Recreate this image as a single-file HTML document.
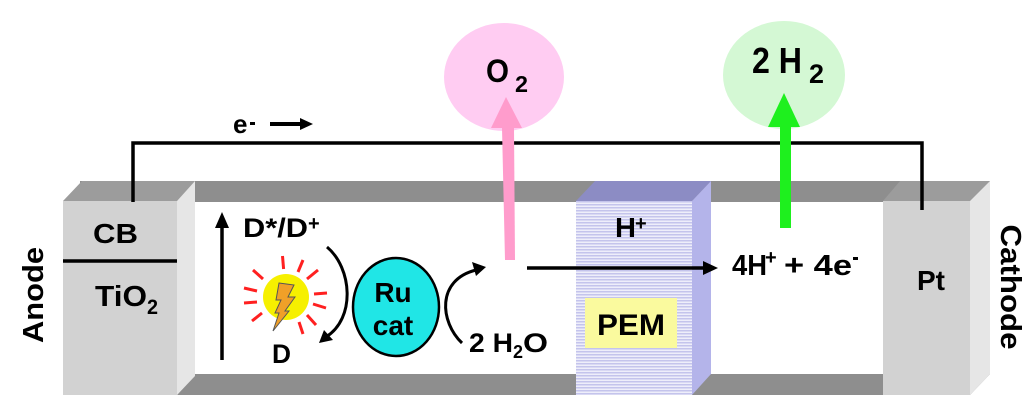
<!DOCTYPE html>
<html>
<head>
<meta charset="utf-8">
<style>
html,body{margin:0;padding:0;background:#fff;}
svg{display:block;}
text{font-family:"Liberation Sans",Arial,sans-serif;font-weight:bold;fill:#000;}
</style>
</head>
<body>
<svg width="1031" height="410" viewBox="0 0 1031 410" xmlns="http://www.w3.org/2000/svg">
<defs>
<pattern id="stripes" width="4" height="3" patternUnits="userSpaceOnUse">
<rect width="4" height="3" fill="#eeeefa"/>
<rect y="0" width="4" height="1.5" fill="#c4c4ec"/>
</pattern>
</defs>
<rect width="1031" height="410" fill="#fff"/>

<!-- Gas bubbles -->
<ellipse cx="504" cy="77" rx="60" ry="54" fill="#ffccf2"/>
<ellipse cx="784" cy="75" rx="61" ry="54" fill="#d4f8d4"/>
<text x="486" y="82" font-size="32" textLength="23" lengthAdjust="spacingAndGlyphs">O</text>
<text x="515" y="92" font-size="23" textLength="13" lengthAdjust="spacingAndGlyphs">2</text>
<text x="752" y="73" font-size="36" textLength="50" lengthAdjust="spacingAndGlyphs">2 H</text>
<text x="809" y="83" font-size="27" textLength="15" lengthAdjust="spacingAndGlyphs">2</text>

<!-- top bar -->
<rect x="80" y="181" width="910" height="21" fill="#8e8e8e"/>
<!-- bottom bar -->
<polygon points="177,395 195,374 990,374 970,395" fill="#8e8e8e"/>

<!-- Anode block -->
<rect x="63" y="201" width="114" height="194" fill="#d2d2d2"/>
<polygon points="63,201 82,181 195,181 177,201" fill="#9c9c9c"/>
<polygon points="177,201 195,181 195,376 177,395" fill="#e6e6e6"/>
<line x1="63" y1="261" x2="177" y2="261" stroke="#000" stroke-width="3.5"/>
<text x="93" y="243" font-size="28" textLength="45" lengthAdjust="spacingAndGlyphs">CB</text>
<text x="95" y="306" font-size="29" textLength="52" lengthAdjust="spacingAndGlyphs">TiO</text>
<text x="147" y="314" font-size="21" textLength="11" lengthAdjust="spacingAndGlyphs">2</text>

<!-- PEM block -->
<rect x="576" y="201" width="116" height="194" fill="url(#stripes)"/>
<polygon points="576,201 595,181 711,181 692,201" fill="#8c8cc4"/>
<polygon points="692,201 711,181 711,374 692,395" fill="#b4b4ea"/>
<rect x="585" y="298" width="92" height="50" fill="#fafa9e"/>
<text x="597" y="335" font-size="30" textLength="68" lengthAdjust="spacingAndGlyphs">PEM</text>
<text x="615" y="237" font-size="28" textLength="21" lengthAdjust="spacingAndGlyphs">H</text>
<text x="635" y="230" font-size="20">+</text>

<!-- Cathode block -->
<rect x="883" y="201" width="87" height="194" fill="#d2d2d2"/>
<polygon points="883,201 900,181 990,181 970,201" fill="#9c9c9c"/>
<polygon points="970,201 990,181 990,374 970,395" fill="#e6e6e6"/>
<text x="917" y="290" font-size="28" textLength="28" lengthAdjust="spacingAndGlyphs">Pt</text>

<!-- wire -->
<path d="M133,202 V143 H922 V210" fill="none" stroke="#000" stroke-width="3.5"/>
<text x="233" y="133" font-size="26">e</text>
<rect x="250" y="122" width="5" height="3" fill="#000"/>
<line x1="270" y1="124" x2="302" y2="124" stroke="#000" stroke-width="4"/>
<polygon points="300,118 313,124 300,130" fill="#000"/>

<!-- Pink arrow -->
<polygon points="502,128 514,128 515,260 505,260" fill="#ff9ccc"/>
<polygon points="506,97 491,128 522,128" fill="#ff9ccc"/>
<!-- Green arrow -->
<rect x="780" y="126" width="11" height="102" fill="#1ef01e"/>
<polygon points="784,93 768,127 800,127" fill="#1ef01e"/>

<!-- Anode / Cathode labels -->
<text transform="translate(43,295) rotate(-90)" text-anchor="middle" font-size="29" textLength="96" lengthAdjust="spacingAndGlyphs" x="0" y="0">Anode</text>
<text transform="translate(1001,287) rotate(90)" text-anchor="middle" font-size="29" textLength="125" lengthAdjust="spacingAndGlyphs" x="0" y="0">Cathode</text>

<!-- vertical arrow -->
<line x1="222" y1="360" x2="222" y2="226" stroke="#000" stroke-width="3.5"/>
<polygon points="222,212 215,228 229,228" fill="#000"/>
<text x="243" y="237" font-size="27" textLength="65" lengthAdjust="spacingAndGlyphs">D*/D</text>
<text x="308" y="230" font-size="20">+</text>
<text x="272" y="363" font-size="27" textLength="19" lengthAdjust="spacingAndGlyphs">D</text>

<!-- Sun -->
<g stroke="#ff2020" stroke-width="3" stroke-linecap="butt">
<line x1="283.6" y1="269" x2="282.5" y2="256"/>
<line x1="298" y1="272" x2="303" y2="260"/>
<line x1="307" y1="279" x2="318" y2="270"/>
<line x1="314" y1="294" x2="327" y2="293"/>
<line x1="313" y1="304" x2="326" y2="308"/>
<line x1="307" y1="315" x2="316" y2="325"/>
<line x1="299" y1="322" x2="303" y2="334"/>
<line x1="263" y1="279" x2="253" y2="270"/>
<line x1="257" y1="291" x2="244" y2="288"/>
<line x1="257" y1="302" x2="244" y2="303"/>
<line x1="262" y1="313" x2="252" y2="321"/>
</g>
<circle cx="286" cy="297" r="23" fill="#f6f000"/>
<polygon points="279,283 294,285 288,297 295,297 285,311 289,311 273,331 279,313 275,313 281,300 276,300" fill="#f0a028" stroke="#555" stroke-width="1"/>

<!-- left curved arrow -->
<path d="M327,247 C352,268 356,318 326,337" fill="none" stroke="#000" stroke-width="3"/>
<polygon points="319,343 324,330 333,340" fill="#000"/>

<!-- Ru cat -->
<ellipse cx="396" cy="307" rx="43" ry="49" fill="#20e6e6" stroke="#000" stroke-width="2.5"/>
<text x="393" y="302" font-size="28" text-anchor="middle">Ru</text>
<text x="393" y="335" font-size="28" text-anchor="middle">cat</text>

<!-- right curved arrow -->
<path d="M462,343 C440,322 436,280 476,270" fill="none" stroke="#000" stroke-width="3"/>
<polygon points="486,267 472,262 476,276" fill="#000"/>
<text x="469" y="352" font-size="27" textLength="44" lengthAdjust="spacingAndGlyphs">2 H</text>
<text x="513" y="358" font-size="18" textLength="10" lengthAdjust="spacingAndGlyphs">2</text>
<text x="523" y="352" font-size="27" textLength="25" lengthAdjust="spacingAndGlyphs">O</text>

<!-- horizontal arrow -->
<line x1="527" y1="268" x2="706" y2="268" stroke="#000" stroke-width="3.5"/>
<polygon points="718,268 703,261 703,275" fill="#000"/>
<text x="732" y="275" font-size="29" textLength="35" lengthAdjust="spacingAndGlyphs">4H</text>
<text x="765" y="264" font-size="20">+</text>
<text x="784" y="275" font-size="29" textLength="68" lengthAdjust="spacingAndGlyphs">+ 4e</text>
<rect x="853" y="257" width="5" height="3" fill="#000"/>
</svg>
</body>
</html>
